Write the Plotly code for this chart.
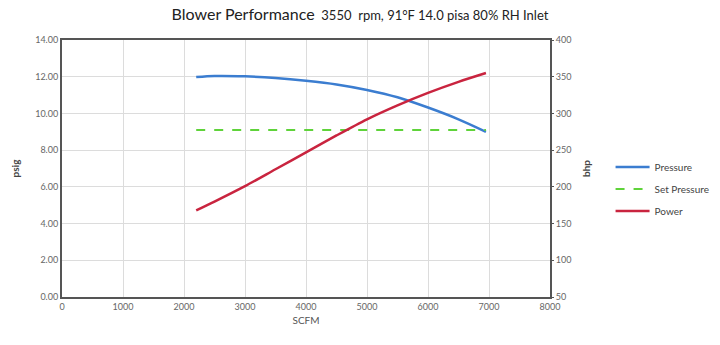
import plotly.graph_objects as go

scfm = [2200, 2500, 3000, 3500, 4000, 4500, 5000, 5500, 6000, 6500, 6950]
pressure = [11.98, 12.04, 12.02, 11.93, 11.78, 11.58, 11.28, 10.88, 10.32, 9.68, 9.0]
power = [168, 180, 201, 224, 247, 270, 292, 311, 328, 343, 355]
set_x = [2200, 6950]
set_pressure = [9.1, 9.1]

left_ticks = [0, 2, 4, 6, 8, 10, 12, 14]
left_labels = ["0.00", "2.00", "4.00", "6.00", "8.00", "10.00", "12.00", "14.00"]

FONT = "Lato, Open Sans, sans-serif"

fig = go.Figure()
fig.add_trace(go.Scatter(x=scfm, y=pressure, name="Pressure", mode="lines", legendgroup="a",
                         line=dict(color="#3b7dd0", width=2.5, shape="spline", smoothing=0.8)))
fig.add_trace(go.Scatter(x=set_x, y=set_pressure, name="Set Pressure", mode="lines", legendgroup="b",
                         line=dict(color="#5fd33a", width=2, dash="dash")))
fig.add_trace(go.Scatter(x=scfm, y=power, name="Power", mode="lines", yaxis="y2", legendgroup="c",
                         line=dict(color="#c9243f", width=2.5, shape="spline", smoothing=0.8)))

fig.update_layout(
    width=720, height=345,
    margin=dict(l=62, r=170, t=40, b=48),
    paper_bgcolor="white", plot_bgcolor="white",
    font=dict(family=FONT, color="#666", size=9),
    title=dict(
        text="<span style='font-size:16px'>Blower Performance</span>  <span style='font-size:13px'>3550  rpm, 91°F 14.0 pisa 80% RH Inlet</span>",
        x=0.5, xanchor="center", y=0.955, yanchor="middle",
        font=dict(family=FONT, color="#222")),
    xaxis=dict(range=[0, 8000], dtick=1000, showgrid=True, gridcolor="#dcdcdc",
               showline=True, linecolor="#555", linewidth=2, mirror=True,
               ticks="", zeroline=False,
               title=dict(text="SCFM", font=dict(size=10, color="#555"), standoff=6)),
    yaxis=dict(range=[0, 14], tickvals=left_ticks, ticktext=left_labels,
               showgrid=True, gridcolor="#dcdcdc",
               showline=True, linecolor="#555", linewidth=2, mirror=True,
               ticks="", zeroline=False,
               title=dict(text="<b>psig</b>", font=dict(size=10, color="#444"), standoff=14)),
    yaxis2=dict(range=[50, 400], dtick=50, overlaying="y", side="right",
                showgrid=False, showline=False, ticks="outside", ticklen=3,
                tickcolor="#555", zeroline=False,
                title=dict(text="<b>bhp</b>", font=dict(size=10, color="#444"), standoff=12)),
    legend=dict(xref="container", yref="container", x=0.848, y=1 - 189 / 345,
                xanchor="left", yanchor="middle",
                font=dict(size=10, color="#444"), tracegroupgap=3,
                itemwidth=34, bgcolor="rgba(0,0,0,0)"),
    showlegend=True,
)

fig.write_html("out.html")
